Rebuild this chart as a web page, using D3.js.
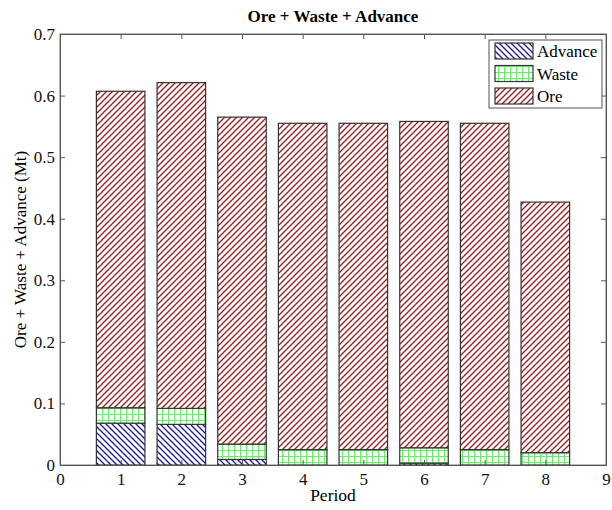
<!DOCTYPE html>
<html>
<head>
<meta charset="utf-8">
<script src="https://cdn.jsdelivr.net/npm/d3@7"></script>
<style>
  body { margin: 0; background: #fff; }
  text { font-family: "Liberation Serif", "Times New Roman", serif; }
</style>
</head>
<body>
<script>
// Chart data
var periods = [1, 2, 3, 4, 5, 6, 7, 8];
var advance = [0.068, 0.066, 0.009, 0, 0, 0.003, 0, 0];
var waste = [0.025, 0.026, 0.025, 0.025, 0.025, 0.025, 0.025, 0.02];
var ore = [0.514, 0.529, 0.531, 0.530, 0.530, 0.530, 0.530, 0.407];
var seriesNames = ['Advance', 'Waste', 'Ore'];
var xTicks = [0, 1, 2, 3, 4, 5, 6, 7, 8, 9];
var yTicks = [0, 0.1, 0.2, 0.3, 0.4, 0.5, 0.6, 0.7];

var w = 612, h = 510;
var padLeft = 60, padRight = 606, padTop = 34, padBottom = 465;

var svg = d3.select('body').append('svg')
  .attr('width', w)
  .attr('height', h);

// hatch patterns
var defs = svg.append('defs');

function hatch(id, color, dir) {
  var p = defs.append('pattern')
    .attr('id', id)
    .attr('patternUnits', 'userSpaceOnUse')
    .attr('width', 6).attr('height', 6);
  p.append('rect').attr('width', 6).attr('height', 6).attr('fill', '#fff');
  var d = dir > 0
    ? 'M-1,7 L7,-1 M-4,4 L4,-4 M2,10 L10,2'
    : 'M-1,-1 L7,7 M-4,2 L4,10 M2,-4 L10,4';
  p.append('path')
    .attr('d', d)
    .attr('stroke', color)
    .attr('stroke-width', 1.3)
    .attr('fill', 'none');
}
hatch('hatchOre', '#a01818', 1);
hatch('hatchAdv', '#1a1aa0', -1);

var grid = defs.append('pattern')
  .attr('id', 'gridWaste')
  .attr('patternUnits', 'userSpaceOnUse')
  .attr('width', 6).attr('height', 6);
grid.append('rect').attr('width', 6).attr('height', 6).attr('fill', '#fff');
grid.append('path')
  .attr('d', 'M0.5,0 L0.5,6 M0,0.5 L6,0.5')
  .attr('stroke', '#66ee66')
  .attr('stroke-width', 1.2)
  .attr('fill', 'none');

var fills = { Advance: 'url(#hatchAdv)', Waste: 'url(#gridWaste)', Ore: 'url(#hatchOre)' };

var x = d3.scaleLinear().domain([0, 9]).range([padLeft, padRight]);
var y = d3.scaleLinear().domain([0, 0.7]).range([padBottom, padTop]);

var rows = periods.map(function(p, i) {
  return { period: p, Advance: advance[i], Waste: waste[i], Ore: ore[i] };
});
var stack = d3.stack().keys(seriesNames)(rows);

var barW = x(0.8) - x(0);

// plot box
svg.append('rect')
  .attr('x', padLeft).attr('y', padTop)
  .attr('width', padRight - padLeft).attr('height', padBottom - padTop)
  .attr('fill', '#fff')
  .attr('stroke', '#777')
  .attr('stroke-width', 1);

stack.forEach(function(layer) {
  svg.append('g').selectAll('rect')
    .data(layer)
    .enter()
    .append('rect')
    .attr('x', function(d) { return x(d.data.period) - barW / 2; })
    .attr('y', function(d) { return y(d[1]); })
    .attr('width', barW)
    .attr('height', function(d) { return Math.max(0, y(d[0]) - y(d[1])); })
    .attr('fill', fills[layer.key])
    .attr('stroke', '#333')
    .attr('stroke-width', 1.2);
});

// axes with inward ticks
var axisColor = '#555';
var xAxis = svg.append('g')
  .attr('transform', 'translate(0,' + padBottom + ')')
  .call(d3.axisBottom(x).tickValues(xTicks).tickSize(-5).tickPadding(8).tickFormat(d3.format('d')));
var xTop = svg.append('g')
  .attr('transform', 'translate(0,' + padTop + ')')
  .call(d3.axisTop(x).tickValues(xTicks).tickSize(-5).tickFormat(''));
var yAxis = svg.append('g')
  .attr('transform', 'translate(' + padLeft + ',0)')
  .call(d3.axisLeft(y).tickValues(yTicks).tickSize(-5).tickPadding(5).tickFormat(function(d) { return d === 0 ? '0' : d3.format('.1f')(d); }));
var yRight = svg.append('g')
  .attr('transform', 'translate(' + padRight + ',0)')
  .call(d3.axisRight(y).tickValues(yTicks).tickSize(-5).tickFormat(''));

[xAxis, xTop, yAxis, yRight].forEach(function(a) {
  a.select('.domain').attr('stroke', axisColor);
  a.selectAll('.tick line').attr('stroke', axisColor);
  a.selectAll('.tick text')
    .attr('fill', '#111')
    .attr('font-size', '17px')
    .style('font-family', '"Liberation Serif", serif');
});

// titles
svg.append('text')
  .attr('x', (padLeft + padRight) / 2).attr('y', 22)
  .attr('text-anchor', 'middle')
  .attr('font-size', '17px')
  .attr('font-weight', 'bold')
  .text('Ore + Waste + Advance');

svg.append('text')
  .attr('x', (padLeft + padRight) / 2).attr('y', 501)
  .attr('text-anchor', 'middle')
  .attr('font-size', '17.5px')
  .text('Period');

svg.append('text')
  .attr('transform', 'translate(26,' + ((padTop + padBottom) / 2) + ') rotate(-90)')
  .attr('text-anchor', 'middle')
  .attr('font-size', '17px')
  .text('Ore + Waste + Advance (Mt)');

// legend
var lg = svg.append('g');
lg.append('rect')
  .attr('x', 489).attr('y', 40)
  .attr('width', 113).attr('height', 68)
  .attr('fill', '#fff')
  .attr('stroke', '#555');

seriesNames.forEach(function(name, i) {
  var yy = 43 + i * 22.5;
  lg.append('rect')
    .attr('x', 495).attr('y', yy)
    .attr('width', 38).attr('height', 16)
    .attr('fill', fills[name])
    .attr('stroke', '#333')
    .attr('stroke-width', 1.2);
  lg.append('text')
    .attr('x', 537).attr('y', yy + 14)
    .attr('font-size', '17px')
    .text(name);
});
</script>
</body>
</html>
